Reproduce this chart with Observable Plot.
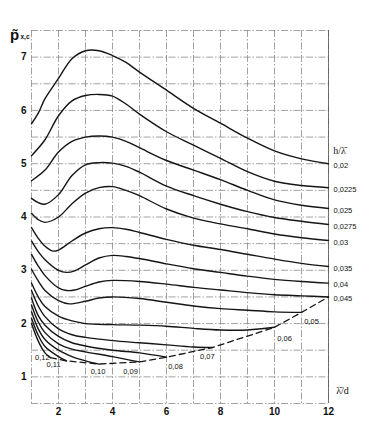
<!DOCTYPE html>
<html><head><meta charset="utf-8">
<script src="https://cdn.jsdelivr.net/npm/d3@7"></script>
<script src="https://cdn.jsdelivr.net/npm/@observablehq/plot@0.6"></script>
<style>html,body{margin:0;padding:0;background:#fff;overflow:hidden}svg{display:block}</style>
</head><body><div id="chart"></div>
<script>
// h/λ labels, top to bottom
const hLabels = ["0,02","0,0225","0,025","0,0275","0,03","0,035","0,04","0,045","0,05","0,06","0,07","0,08","0,09","0,10","0,11","0,12"];

const s0200 = [[1,5.75],[1.25,5.95],[1.5,6.22],[2,6.6],[2.5,6.97],[3,7.12],[3.5,7.12],[4,7.03],[4.5,6.9],[5,6.72],[6,6.38],[7,6.04],[8,5.76],[9,5.48],[10,5.24],[11,5.09],[12,5.0]];
const s0225 = [[1,5.15],[1.5,5.45],[2,5.9],[2.5,6.18],[3,6.28],[3.5,6.3],[4,6.27],[4.5,6.12],[5,5.93],[6,5.6],[7,5.35],[8,5.1],[9,4.85],[10,4.67],[11,4.59],[12,4.55]];
const s0250 = [[1,4.68],[1.5,4.88],[2,5.22],[2.5,5.42],[3,5.5],[3.5,5.52],[4,5.5],[4.5,5.42],[5,5.3],[6,5.06],[7,4.88],[8,4.7],[9,4.5],[10,4.32],[11,4.22],[12,4.16]];
const s0275 = [[1,4.35],[1.25,4.27],[1.5,4.24],[2,4.42],[2.5,4.78],[3,4.98],[3.5,5.02],[4,5.01],[4.5,4.95],[5,4.84],[6,4.58],[7,4.4],[8,4.24],[9,4.1],[10,3.99],[11,3.92],[12,3.86]];
const s0300 = [[1,4.07],[1.25,3.95],[1.5,3.9],[2,4.0],[2.5,4.25],[3,4.45],[3.5,4.55],[4,4.57],[4.5,4.5],[5,4.4],[6,4.15],[7,3.98],[8,3.87],[9,3.78],[10,3.68],[11,3.61],[12,3.56]];
const s0350 = [[1,3.8],[1.25,3.6],[1.5,3.45],[1.8,3.36],[2,3.38],[2.5,3.55],[3,3.7],[3.5,3.78],[4,3.8],[4.5,3.77],[5,3.71],[6,3.58],[7,3.47],[8,3.39],[9,3.3],[10,3.21],[11,3.13],[12,3.07]];
const s0400 = [[1,3.55],[1.25,3.35],[1.5,3.2],[2,3.0],[2.3,2.96],[2.6,2.99],[3,3.1],[3.5,3.23],[4,3.28],[4.5,3.26],[5,3.22],[6,3.12],[7,3.03],[8,2.96],[9,2.89],[10,2.83],[11,2.79],[12,2.76]];
const s0450 = [[1,3.3],[1.25,3.08],[1.5,2.9],[2,2.67],[2.3,2.62],[2.6,2.63],[3,2.7],[3.5,2.78],[4,2.81],[5,2.79],[6,2.74],[7,2.68],[8,2.63],[9,2.58],[10,2.54],[11,2.52],[12,2.5]];
const s0500 = [[1,3.02],[1.25,2.8],[1.5,2.62],[2,2.43],[2.4,2.37],[3,2.42],[3.5,2.48],[4,2.5],[5,2.47],[6,2.4],[7,2.33],[8,2.28],[9,2.25],[10,2.22],[11,2.21]];
const s0600 = [[1,2.76],[1.25,2.5],[1.5,2.32],[2,2.14],[2.5,2.05],[3,2.0],[4,1.98],[5,1.97],[6,1.95],[7,1.91],[8,1.88],[9,1.88],[10,1.93]];
const s0700 = [[1,2.62],[1.25,2.33],[1.5,2.13],[2,1.9],[2.5,1.79],[3,1.74],[4,1.68],[5,1.64],[6,1.6],[7,1.56],[7.7,1.55]];
const s0800 = [[1,2.48],[1.25,2.15],[1.5,1.97],[2,1.76],[2.5,1.64],[3,1.58],[4,1.5],[5,1.45],[6,1.37]];
const s0900 = [[1,2.35],[1.25,2.03],[1.5,1.83],[2,1.62],[2.5,1.52],[3,1.47],[4,1.38],[5,1.28]];
const s1000 = [[1,2.22],[1.25,1.9],[1.5,1.7],[2,1.5],[2.5,1.38],[3,1.3],[3.5,1.24]];
const s1100 = [[1,2.1],[1.25,1.78],[1.5,1.57],[2,1.38],[2.3,1.3]];
const s1200 = [[1,2.0],[1.25,1.67],[1.5,1.45],[1.7,1.36]];

// dashed boundary line through curve ends
const boundary = [[1.7,1.36],[2.3,1.3],[3.5,1.24],[5,1.28],[6,1.37],[7.7,1.55],[10,1.93],[11,2.21],[12,2.5]];

const xTicks = [2,4,6,8,10,12];
const yTicks = [1,2,3,4,5,6,7];

const series = [s0200,s0225,s0250,s0275,s0300,s0350,s0400,s0450,s0500,s0600,s0700,s0800,s0900,s1000,s1100,s1200];
const rows = series.flatMap((pts,i)=>pts.map(([x,y])=>({x,y,h:hLabels[i]})));
const ends = series.map((pts,i)=>({x:pts[pts.length-1][0], y:pts[pts.length-1][1], h:hLabels[i]}));
const rightEnds = ends.slice(0,8);
const lowEnds = ends.slice(8);
// label offsets (px) for lower curve labels
const lowOff = [[10,9],[10,11],[-5,9],[9,9],[-9,10],[-1,8],[-13,4],[-8,0]];
const bnd = boundary.map(([x,y])=>({x,y}));

const gridStyle = {stroke:"#8a8a8a", strokeWidth:0.8, strokeDasharray:"7,2,1.5,2"};
const labelFont = {fontSize:7.5, textAnchor:"middle"};

const chart = Plot.plot({
  width:372, height:427,
  marginLeft:31, marginRight:44, marginTop:30, marginBottom:24,
  style:{fontFamily:"'Liberation Sans', Arial, sans-serif", background:"#fff", color:"#111"},
  x:{domain:[1,12], axis:null},
  y:{domain:[0.5,7.5], axis:null},
  marks:[
    Plot.ruleX(d3.range(1,13), {...gridStyle}),
    Plot.ruleY(d3.range(0.5,7.51,0.5), {...gridStyle}),
    Plot.ruleX([12], {stroke:"#555", strokeWidth:0.8}),
    Plot.line(rows, {x:"x", y:"y", z:"h", curve:"catmull-rom", stroke:"#151515", strokeWidth:1.4}),
    Plot.line(bnd, {x:"x", y:"y", stroke:"#151515", strokeWidth:1.3, strokeDasharray:"6,4"}),
    Plot.axisY({ticks:yTicks, tickFormat:d3.format("d"), tickSize:0, tickPadding:5, fontSize:10, fontWeight:"bold", label:null}),
    Plot.axisX({ticks:xTicks, tickFormat:d3.format("d"), tickSize:0, tickPadding:4, fontSize:10, fontWeight:"bold", label:null}),
    Plot.text(rightEnds, {x:"x", y:"y", text:"h", dx:5, dy:2, textAnchor:"start", fontSize:7.5}),
    ...lowEnds.map((d,i)=>Plot.text([d], {x:"x", y:"y", text:"h", dx:lowOff[i][0], dy:lowOff[i][1], ...labelFont})),
    Plot.text(["h/λ̄"], {frameAnchor:"top-right", dx:11, dy:116, textAnchor:"middle", fontSize:10, fontFamily:"'Liberation Serif', serif"}),
    Plot.text(["λ̄/d"], {frameAnchor:"bottom-right", dx:14, dy:-10, textAnchor:"middle", fontSize:10, fontFamily:"'Liberation Serif', serif"}),
    Plot.text(["p̃"], {frameAnchor:"top-left", dx:-17, dy:-1, textAnchor:"middle", fontSize:15, fontWeight:"bold"}),
    Plot.text(["x,c"], {frameAnchor:"top-left", dx:-11, dy:4, textAnchor:"start", fontSize:6.5, fontWeight:"bold"})
  ]
});
document.getElementById("chart").appendChild(chart);
</script>
</body></html>
